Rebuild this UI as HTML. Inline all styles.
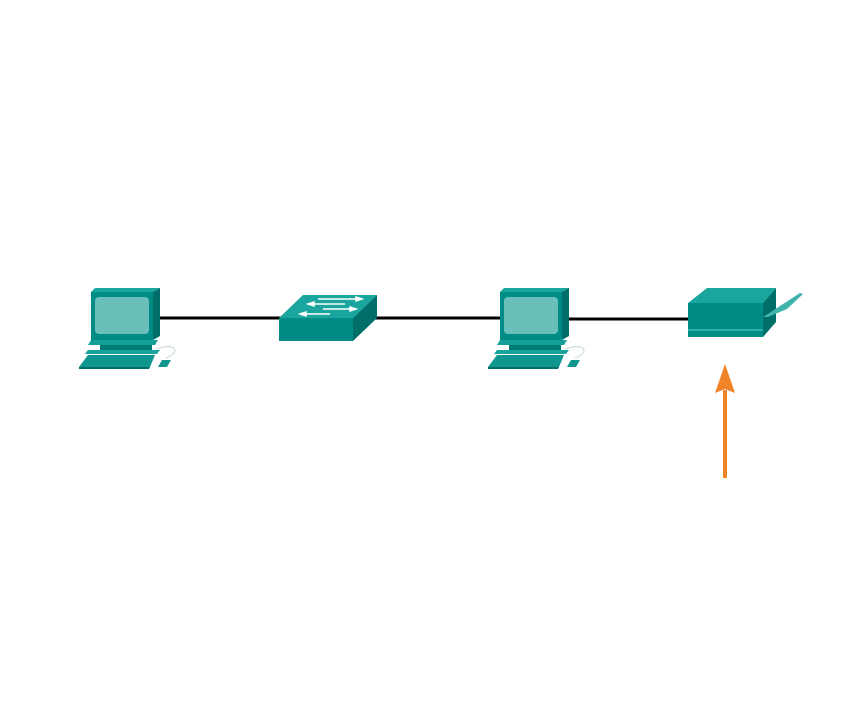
<!DOCTYPE html>
<html><head><style>html,body{margin:0;padding:0;background:#fff;}svg{display:block}</style></head>
<body>
<svg width="849" height="722" viewBox="0 0 849 722" xmlns="http://www.w3.org/2000/svg">
<defs>
<g id="pc">
  <polygon points="91,292 95,288 160,288 153,292" fill="#1aa69e"/>
  <polygon points="153,292 160,288 160,336 153,340" fill="#006e69"/>
  <rect x="91" y="292" width="62" height="48" fill="#008c86"/>
  <rect x="95" y="297" width="54" height="37" rx="4" fill="#6bbfbb"/>
  <polygon points="91,340 158,340 155,345 88,345" fill="#14a098"/>
  <polygon points="100,345 152,345 152,350 100,350" fill="#007a74"/>
  <polygon points="88,350 160,350 157,354 85,354" fill="#18a49c"/>
  <polygon points="79,367 88,355 155,355 150,367" fill="#0e968f"/>
  <polygon points="79,367 150,367 149,369 79,369" fill="#006e69"/>
  <path d="M157,349 C175,342 182,352 166,358" fill="none" stroke="#c8d8d8" stroke-width="1"/>
  <polygon points="158,367 162,360 171,360 167,367" fill="#0e968f"/>
</g>
</defs>
<line x1="158" y1="318" x2="282" y2="318" stroke="#000" stroke-width="3"/>
<line x1="375" y1="318" x2="502" y2="318" stroke="#000" stroke-width="3"/>
<line x1="566" y1="319" x2="690" y2="319" stroke="#000" stroke-width="3"/>
<use href="#pc"/>
<use href="#pc" transform="translate(409,0)"/>
<!-- switch -->
<polygon points="279,318 303,295 377,295 353,318" fill="#1aa69e"/>
<rect x="279" y="318" width="74" height="23" fill="#008c86"/>
<polygon points="353,318 377,295 377,318 353,341" fill="#006e69"/>
<g stroke="#fff" stroke-width="1.5" fill="#fff">
<line x1="318" y1="299" x2="360" y2="299"/><polygon points="362,299 356,297 356,301"/>
<line x1="312" y1="304" x2="345" y2="304"/><polygon points="308,304 314,302 314,306"/>
<line x1="323" y1="309" x2="353" y2="309"/><polygon points="356,309 350,307 350,311"/>
<line x1="304" y1="314" x2="330" y2="314"/><polygon points="300,314 306,312 306,316"/>
</g>
<!-- printer -->
<polygon points="688,303 707,288 776,288 763,303" fill="#1aa69e"/>
<rect x="688" y="303" width="75" height="34" fill="#008c86"/>
<rect x="688" y="329" width="75" height="2" fill="#2fb0a8"/>
<polygon points="763,303 776,288 776,322 763,337" fill="#006e69"/>
<polygon points="763,317 800,293 803,294 787,309 768,317" fill="#3fb4ac"/>
<!-- arrow -->
<line x1="725" y1="478" x2="725" y2="390" stroke="#f08228" stroke-width="4"/>
<polygon points="725,364 735,393 725,389 715,393" fill="#f08228"/>
</svg>
</body></html>
